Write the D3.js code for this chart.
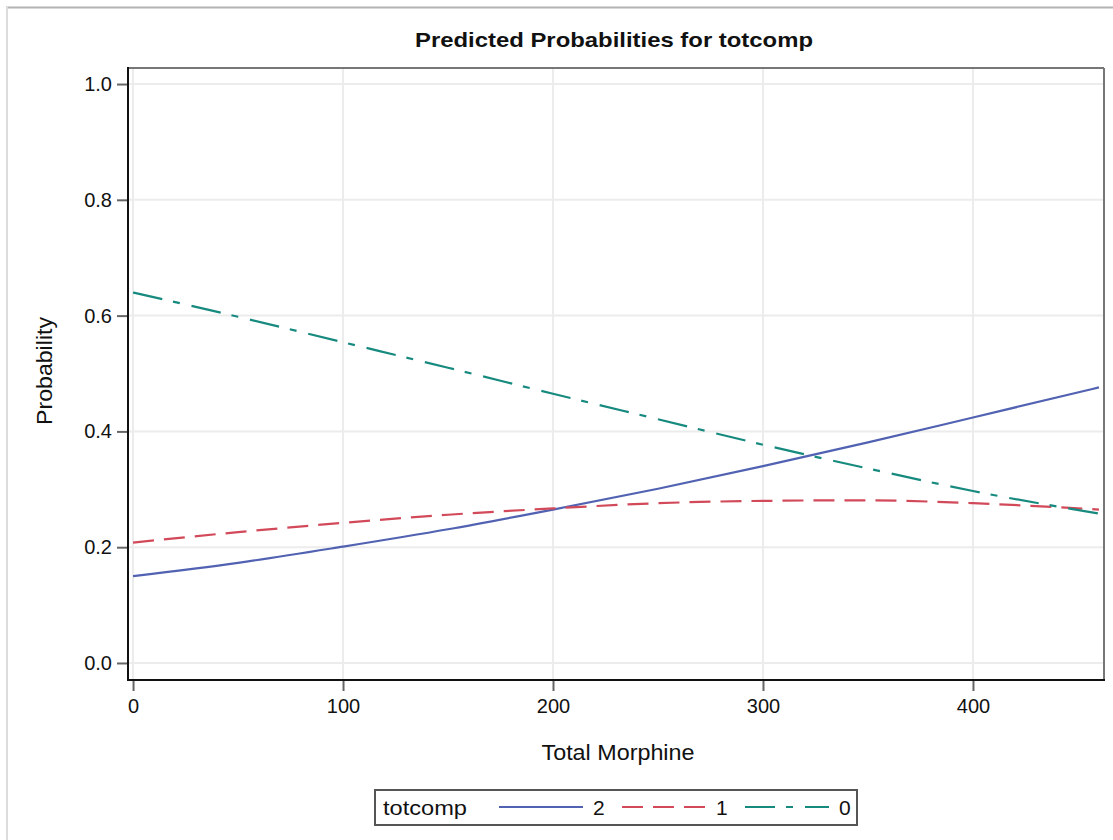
<!DOCTYPE html>
<html>
<head>
<meta charset="utf-8">
<script src="https://d3js.org/d3.v7.min.js"></script>
<style>
  body { margin: 0; background: #fff; }
  svg { display: block; font-family: "Liberation Sans", Arial, sans-serif; }
</style>
</head>
<body>
<svg id="chart" width="1113" height="840"></svg>
<script>
// values
const morphine = [0, 50, 100, 150, 200, 250, 300, 350, 400, 460]
const prob2 = [0.150, 0.173, 0.201, 0.231, 0.265, 0.301, 0.340, 0.381, 0.424, 0.476]
const prob1 = [0.208, 0.226, 0.242, 0.256, 0.267, 0.276, 0.280, 0.281, 0.276, 0.265]
const prob0 = [0.640, 0.598, 0.554, 0.510, 0.465, 0.421, 0.377, 0.336, 0.297, 0.258]
const xTicks = [0, 100, 200, 300, 400]
const yTicks = [0, 0.2, 0.4, 0.6, 0.8, 1.0]
const legendLabels = ['2', '1', '0']

const series = [
  { name: '2', values: prob2, color: '#5262b2', dash: null },
  { name: '1', values: prob1, color: '#d24a5a', dash: '21,10' },
  { name: '0', values: prob0, color: '#178a7f', dash: '30,11,7,12' }
]

const svg = d3.select('#chart')
const plotL = 128, plotR = 1104, plotT = 68, plotB = 680

// outer frame (only top and left edges visible)
svg.append('line').attr('x1', 6).attr('x2', 1113).attr('y1', 7.5).attr('y2', 7.5)
  .attr('stroke', '#b4b4b4').attr('stroke-width', 2)
svg.append('line').attr('x1', 7).attr('x2', 7).attr('y1', 7).attr('y2', 840)
  .attr('stroke', '#dcdcdc').attr('stroke-width', 2)

let x = d3.scaleLinear().domain([-2.4, 462.4]).range([plotL, plotR])
let y = d3.scaleLinear().domain([-0.0294, 1.0277]).range([plotB, plotT])

let g = svg.append('g')

// grid
g.selectAll('.vgrid').data(xTicks).enter().append('line')
  .attr('x1', d => x(d)).attr('x2', d => x(d)).attr('y1', plotT).attr('y2', plotB)
  .attr('stroke', '#ececec').attr('stroke-width', 2)
g.selectAll('.hgrid').data(yTicks).enter().append('line')
  .attr('x1', plotL).attr('x2', plotR).attr('y1', d => y(d)).attr('y2', d => y(d))
  .attr('stroke', '#ececec').attr('stroke-width', 2)

// frame top and right
g.append('line').attr('x1', plotL).attr('x2', plotR).attr('y1', plotT).attr('y2', plotT)
  .attr('stroke', '#777').attr('stroke-width', 2)
g.append('line').attr('x1', plotR).attr('x2', plotR).attr('y1', plotT).attr('y2', plotB)
  .attr('stroke', '#777').attr('stroke-width', 2)

// axes
let xAxis = d3.axisBottom(x).tickValues(xTicks).tickFormat(d3.format('d')).tickSize(11).tickPadding(5)
let yAxis = d3.axisLeft(y).tickValues(yTicks).tickFormat(d3.format('.1f')).tickSize(11).tickPadding(5)

let gx = g.append('g').attr('transform', 'translate(0,' + plotB + ')').call(xAxis)
let gy = g.append('g').attr('transform', 'translate(' + plotL + ',0)').call(yAxis)
;[gx, gy].forEach(a => {
  a.select('.domain').remove()
  a.selectAll('.tick line').attr('stroke', '#666').attr('stroke-width', 2)
  a.selectAll('.tick text').attr('fill', '#111').style('font-size', '20px')
})
gx.selectAll('.tick text').attr('dy', '0.85em')
g.append('line').attr('x1', plotL).attr('x2', plotL).attr('y1', plotT - 1).attr('y2', plotB + 1)
  .attr('stroke', '#111').attr('stroke-width', 2)
g.append('line').attr('x1', plotL - 1).attr('x2', plotR + 1).attr('y1', plotB).attr('y2', plotB)
  .attr('stroke', '#111').attr('stroke-width', 2)

// curves
let line = d3.line().x((d, i) => x(morphine[i])).y(d => y(d)).curve(d3.curveMonotoneX)
g.selectAll('.curve').data(series).enter().append('path')
  .attr('d', d => line(d.values))
  .attr('fill', 'none')
  .attr('stroke', d => d.color)
  .attr('stroke-width', 2.2)
  .attr('stroke-dasharray', d => d.dash)

// titles
svg.append('text').attr('x', 614).attr('y', 47).attr('text-anchor', 'middle')
  .style('font-size', '21px').style('font-weight', 'bold').attr('fill', '#111')
  .attr('textLength', 398).attr('lengthAdjust', 'spacingAndGlyphs')
  .text('Predicted Probabilities for totcomp')
svg.append('text').attr('x', 618).attr('y', 760).attr('text-anchor', 'middle')
  .style('font-size', '22px').attr('fill', '#111')
  .attr('textLength', 153).attr('lengthAdjust', 'spacingAndGlyphs')
  .text('Total Morphine')
svg.append('text').attr('transform', 'translate(52,371) rotate(-90)').attr('text-anchor', 'middle')
  .style('font-size', '22px').attr('fill', '#111')
  .attr('textLength', 108).attr('lengthAdjust', 'spacingAndGlyphs')
  .text('Probability')

// legend
let lg = svg.append('g')
lg.append('rect').attr('x', 375).attr('y', 790).attr('width', 482).attr('height', 35)
  .attr('fill', '#fff').attr('stroke', '#555').attr('stroke-width', 2)
lg.append('text').attr('x', 383).attr('y', 815).style('font-size', '21px').attr('fill', '#111')
  .attr('textLength', 84).attr('lengthAdjust', 'spacingAndGlyphs').text('totcomp')
const legX = [499, 622, 745]
series.forEach((s, i) => {
  lg.append('line').attr('x1', legX[i]).attr('x2', legX[i] + 84).attr('y1', 807).attr('y2', 807)
    .attr('stroke', s.color).attr('stroke-width', 2.2).attr('stroke-dasharray', s.dash)
  lg.append('text').attr('x', legX[i] + 94).attr('y', 815).style('font-size', '21px').attr('fill', '#111')
    .text(legendLabels[i])
})
</script>
</body>
</html>
